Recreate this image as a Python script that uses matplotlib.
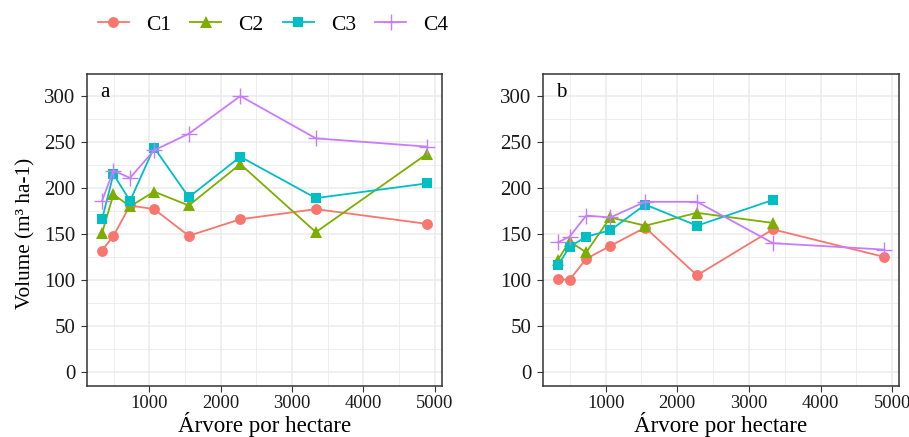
import matplotlib
matplotlib.use("Agg")
import matplotlib.pyplot as plt
from matplotlib.ticker import MultipleLocator

plt.rcParams['font.family'] = ['Liberation Serif', 'DejaVu Serif']

# densities (trees per hectare)
arvores = [335, 495, 728, 1065, 1552, 2275, 3335, 4892]

# panel a
a_c1 = [132, 148, 181, 177, 148, 166, 177, 161]
a_c2 = [151, 193, 180, 196, 181, 226, 152, 237]
a_c3 = [166, 215, 186, 244, 190, 234, 189, 205]
a_c4 = [186, 219, 211, 241, 259, 300, 254, 245]

# panel b (C2 and C3 stop at 3335)
b_c1 = [101, 100, 123, 137, 157, 105, 155, 125]
b_c2 = [122, 142, 130, 168, 159, 173, 162]
b_c3 = [116, 136, 147, 154, 182, 159, 187]
b_c4 = [141, 147, 170, 168, 185, 185, 140, 133]

nomes = ['C1', 'C2', 'C3', 'C4']
cores = ['#F8766D', '#7CAE00', '#00BFC4', '#C77CFF']
marcas = [('o', 7.8), ('^', 8.5), ('s', 7.3), ('+', 11)]

fig = plt.figure(figsize=(9.09, 4.37), dpi=100)
ax_a = fig.add_axes([0.0954, 0.1174, 0.3905, 0.7133])
ax_b = fig.add_axes([0.597, 0.1174, 0.3923, 0.7133])

def painel(ax, series, letra):
    for ys, nome, cor, (m, ms) in zip(series, nomes, cores, marcas):
        ax.plot(arvores[:len(ys)], ys, color=cor, marker=m, markersize=ms,
                markeredgewidth=1.0 if m == '+' else 0, lw=1.3, label=nome)
    ax.set_xlim(120, 5100)
    ax.set_ylim(-15, 324)
    ax.xaxis.set_major_locator(MultipleLocator(1000))
    ax.xaxis.set_minor_locator(MultipleLocator(500))
    ax.yaxis.set_major_locator(MultipleLocator(50))
    ax.yaxis.set_minor_locator(MultipleLocator(25))
    ax.set_xticks([1000, 2000, 3000, 4000, 5000])
    ax.grid(which='major', color='#EBEBEB', lw=1.1)
    ax.grid(which='minor', color='#EBEBEB', lw=0.6)
    ax.set_axisbelow(True)
    for s in ax.spines.values():
        s.set_color('#333333')
        s.set_linewidth(1.1)
    ax.tick_params(which='major', length=4.5, color='#333333',
                   labelcolor='#1a1a1a', pad=2)
    ax.tick_params(axis='x', labelsize=13.3)
    ax.tick_params(axis='y', labelsize=15, pad=3.5)
    ax.tick_params(which='minor', length=0)
    ax.set_xlabel('Árvore por hectare', fontsize=16.5, labelpad=0)
    ax.text(0.038, 0.926, letra, transform=ax.transAxes, fontsize=15,
            va='baseline', ha='left')

painel(ax_a, [a_c1, a_c2, a_c3, a_c4], 'a')
painel(ax_b, [b_c1, b_c2, b_c3, b_c4], 'b')
ax_a.set_ylabel('Volume (m³ ha-1)', fontsize=15.3)
ax_a.yaxis.set_label_coords(-0.143, 0.49)

handles, labels = ax_a.get_legend_handles_labels()
fig.legend(handles, labels, loc='center left', bbox_to_anchor=(0.1075, 0.943),
           ncol=4, frameon=False, fontsize=15.5, handlelength=1.45,
           handletextpad=0.8, columnspacing=0.88, borderpad=0, borderaxespad=0)

fig.savefig('out.png', dpi=100)
